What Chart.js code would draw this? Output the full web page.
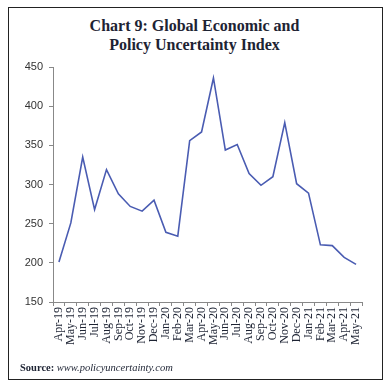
<!DOCTYPE html>
<html>
<head>
<meta charset="utf-8">
<script src="https://cdn.jsdelivr.net/npm/chart.js@4"></script>
<style>
    body { margin: 0; background: #fff; }
    #wrap { position: relative; width: 389px; height: 388px; }
    #frame { position: absolute; left: 8px; top: 7px; width: 373px; height: 371px; border: 1px solid #222; }
    #title { position: absolute; left: 0; top: 16px; width: 389px; text-align: center;
             font: bold 16px "Liberation Serif", serif; line-height: 19px; color: #1d2333; }
    #source { position: absolute; left: 20px; top: 362px; font: 10.5px "Liberation Serif", serif; color: #1d2333; }
    canvas { position: absolute; left: 0; top: 0; }
</style>
</head>
<body>
<div id="wrap">
    <div id="frame"></div>
    <div id="title">Chart 9: Global Economic and<br>Policy Uncertainty Index</div>
    <canvas id="grafico" width="389" height="388"></canvas>
    <div id="source"><b>Source:</b> <i>www.policyuncertainty.com</i></div>
</div>
<script>
// Meses
const meses = ['Apr-19', 'May-19', 'Jun-19', 'Jul-19', 'Aug-19', 'Sep-19', 'Oct-19', 'Nov-19', 'Dec-19',
    'Jan-20', 'Feb-20', 'Mar-20', 'Apr-20', 'May-20', 'Jun-20', 'Jul-20', 'Aug-20', 'Sep-20', 'Oct-20',
    'Nov-20', 'Dec-20', 'Jan-21', 'Feb-21', 'Mar-21', 'Apr-21', 'May-21'];

// Indice de incertidumbre
const indice = [201, 251, 335, 268, 319, 288, 272, 266, 280, 239, 234, 356, 367, 436,
    344, 351, 314, 299, 310, 379, 301, 289, 223, 222, 207, 198];

const yTicks = [150, 200, 250, 300, 350, 400, 450];

const ctx = document.getElementById('grafico').getContext('2d');
new Chart(ctx, {
    type: 'line',
    data: {
        labels: meses,
        datasets: [{
            data: indice,
            borderColor: '#4a5cb2',
            borderWidth: 1.6,
            pointRadius: 0,
            tension: 0,
            fill: false
        }]
    },
    options: {
        responsive: false,
        animation: false,
        layout: { padding: { left: 10, right: 27, top: 67, bottom: 36 } },
        plugins: { legend: { display: false }, tooltip: { enabled: false } },
        scales: {
            x: {
                offset: true,
                grid: { offset: true, drawOnChartArea: false, drawTicks: true, tickLength: 4, color: '#888' },
                border: { color: '#888' },
                ticks: {
                    autoSkip: false, minRotation: 90, maxRotation: 90, padding: 1,
                    color: '#1d2333', font: { family: 'Liberation Serif', size: 12 }
                },
                afterFit: function (s) { s.height = 50; }
            },
            y: {
                min: 150, max: 450,
                afterBuildTicks: function (s) { s.ticks = yTicks.map(v => ({ value: v })); },
                grid: { drawOnChartArea: false, drawTicks: true, tickLength: 4, color: '#888' },
                border: { color: '#888' },
                ticks: {
                    padding: 6, color: '#333',
                    font: { family: 'Liberation Sans', size: 11 }
                },
                afterFit: function (s) { s.width = 43; }
            }
        }
    }
});
</script>
</body>
</html>
